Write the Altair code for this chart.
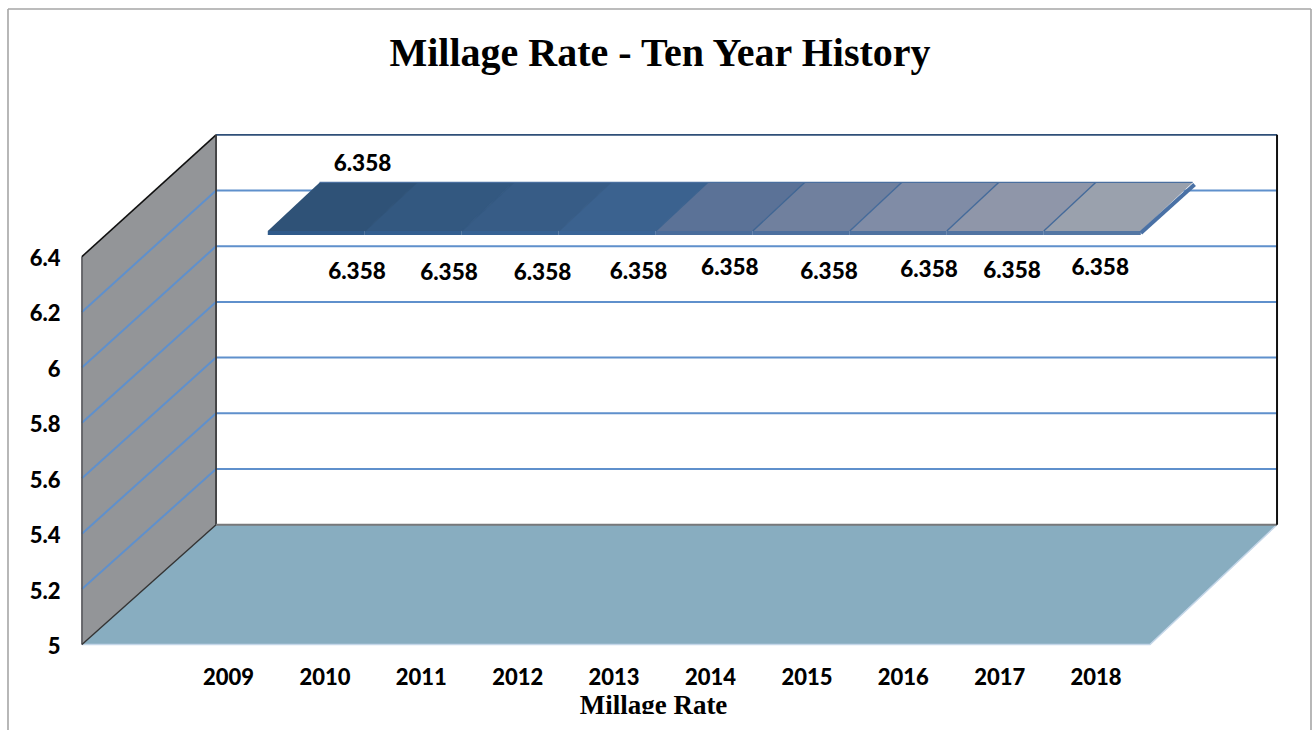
import altair as alt
import pandas as pd

# Annual millage rate, 2009-2018
years = [2009, 2010, 2011, 2012, 2013, 2014, 2015, 2016, 2017, 2018]
rates = [6.358, 6.358, 6.358, 6.358, 6.358, 6.358, 6.358, 6.358, 6.358, 6.358]
value_ticks = [5, 5.2, 5.4, 5.6, 5.8, 6, 6.2, 6.4]

# Canvas layout of the plot area inside the page
PAD_LEFT, PAD_TOP, PLOT_W, PLOT_H = 62, 100, 1250, 560
PX_PER_YEAR, PX_PER_UNIT = 96.4, 277.1
ORIGIN_X, ORIGIN_Y = 228.0, 644.5  # canvas position of year 2009, value 5

x_scale = alt.Scale(
    domain=[2009 + (PAD_LEFT - ORIGIN_X) / PX_PER_YEAR,
            2009 + (PAD_LEFT + PLOT_W - ORIGIN_X) / PX_PER_YEAR],
    nice=False, zero=False)
y_scale = alt.Scale(
    domain=[5 + (ORIGIN_Y - PAD_TOP - PLOT_H) / PX_PER_UNIT,
            5 + (ORIGIN_Y - PAD_TOP) / PX_PER_UNIT],
    nice=False, zero=False)

# Oblique projection: depth 0 is the front plane, depth 1 the back wall
WALL_FRONT_L, WALL_BACK_L = 2007.485, 2008.876
FLOOR_FRONT_R, FLOOR_BACK_R = 2018.564, 2019.882
RUN_YEARS = 130 / PX_PER_YEAR
SLAB_SPREAD = 97 / PX_PER_YEAR
SLAB_D0, SLAB_D1 = 0.306, 0.705
SLAB_THICK = 0.0144


def rise(v):
    return (119.8 + (v - 5) * 1.36) / PX_PER_UNIT


def py(v, d):
    return v + d * rise(v)


def px(year, d):
    return 2009 + (year - 2009) * SLAB_SPREAD + d * RUN_YEARS


x_axis = alt.Axis(
    values=years, format="d", domain=False, ticks=False, grid=False,
    labelFont="Lato", labelFontWeight=900, labelFontSize=22, labelColor="#000000",
    labelPadding=17, labelAngle=0, labelBaseline="middle", labelFlush=False,
    labelOverlap=False,
    title="Millage Rate", titleFont="Liberation Serif", titleFontWeight="bold",
    titleFontSize=27, titleColor="#000000", titleX=591, titleY=53,
    titleBaseline="alphabetic", titleAnchor="middle")
y_axis = alt.Axis(
    values=value_ticks, format="~g", domain=False, ticks=False, grid=False,
    labelFont="Lato", labelFontWeight=900, labelFontSize=22, labelColor="#000000",
    labelPadding=2, labelOffset=2, labelOverlap=False, title="")

X = alt.X("x:Q", scale=x_scale, axis=x_axis)
Y = alt.Y("y:Q", scale=y_scale, axis=y_axis)
X2 = alt.X2("x2:Q")
Y2 = alt.Y2("y2:Q")

# Left wall
wall = pd.DataFrame({
    "x": [WALL_FRONT_L, WALL_BACK_L],
    "y": [py(6.4, 0), py(6.4, 1)],
    "y2": [py(5, 0), py(5, 1)],
})
wall_layer = alt.Chart(wall).mark_area(orient="vertical", color="#939598").encode(X, Y, Y2)

# Floor
floor = pd.DataFrame({
    "y": [py(5, 0), py(5, 1)],
    "x": [WALL_FRONT_L, WALL_BACK_L],
    "x2": [FLOOR_FRONT_R, FLOOR_BACK_R],
})
floor_layer = alt.Chart(floor).mark_area(orient="horizontal", color="#88adc0").encode(Y, X, X2)
floor_rim = alt.Chart(pd.DataFrame({
    "x": [WALL_FRONT_L, FLOOR_FRONT_R, FLOOR_BACK_R],
    "y": [py(5, 0), py(5, 0), py(5, 1)],
})).mark_line(color="#c4d6e8", strokeWidth=1.5).encode(X, Y)

# Gridlines run across the left wall and then along the back wall
grid_rows = []
for v in value_ticks[1:-1]:
    grid_rows += [
        {"v": v, "o": 0, "x": WALL_FRONT_L, "y": py(v, 0)},
        {"v": v, "o": 1, "x": WALL_BACK_L, "y": py(v, 1)},
        {"v": v, "o": 2, "x": FLOOR_BACK_R, "y": py(v, 1)},
    ]
grid_layer = alt.Chart(pd.DataFrame(grid_rows)).mark_line(
    color="#5f90cc", strokeWidth=2).encode(X, Y, detail="v:N", order="o:Q")
top_edge = alt.Chart(pd.DataFrame({
    "x": [WALL_BACK_L, FLOOR_BACK_R], "y": [py(6.4, 1), py(6.4, 1)],
})).mark_line(color="#2f4f78", strokeWidth=1.8).encode(X, Y)


def edge(x0, y0, x1, y1, color, width):
    table = pd.DataFrame({"x": [x0, x1], "y": [y0, y1]})
    return alt.Chart(table).mark_line(color=color, strokeWidth=width).encode(X, Y)


wall_edges = [
    edge(WALL_FRONT_L, py(5, 0), WALL_FRONT_L, py(6.4, 0), "#55565a", 1.6),
    edge(WALL_FRONT_L, py(6.4, 0), WALL_BACK_L, py(6.4, 1), "#111111", 1.6),
    edge(WALL_BACK_L, py(6.4, 1), WALL_BACK_L, py(5, 1), "#3a3a3c", 1.8),
    edge(WALL_FRONT_L, py(5, 0), WALL_BACK_L, py(5, 1), "#333333", 1.4),
    edge(WALL_BACK_L, py(5, 1), FLOOR_BACK_R, py(5, 1), "#77787a", 2),
    edge(FLOOR_BACK_R, py(5, 1), FLOOR_BACK_R, py(6.4, 1), "#111111", 2),
]

# Rate band: nine shaded panels between consecutive years
top_colors = ["#2f5277", "#335880", "#375c86", "#3b628f",
              "#5b7297", "#70809e", "#808ca6", "#8f96a9", "#9aa1ad"]
face_colors = ["#2f5a8a", "#335f90", "#366294", "#3a6598",
               "#4a6d9c", "#4d709f", "#4f72a0", "#5174a2", "#5477a4"]
seam_colors = ["#2f5277", "#335880", "#375c86", "#3b628f",
               "#3f6593", "#446a9a", "#446a9a", "#446a9a"]

v_top = rates[0]
v_base = v_top - SLAB_THICK
slab_layers = []
for i in range(len(years) - 1):
    y0, y1 = years[i], years[i + 1]
    panel = pd.DataFrame({
        "y": [py(v_top, SLAB_D0), py(v_top, SLAB_D1)],
        "x": [px(y0, SLAB_D0), px(y0, SLAB_D1)],
        "x2": [px(y1, SLAB_D0), px(y1, SLAB_D1)],
    })
    slab_layers.append(alt.Chart(panel).mark_area(
        orient="horizontal", color=top_colors[i]).encode(Y, X, X2))
    face = pd.DataFrame({
        "x": [px(y0, SLAB_D0), px(y1, SLAB_D0)],
        "y": [py(v_top, SLAB_D0)] * 2,
        "y2": [py(v_base, SLAB_D0)] * 2,
    })
    slab_layers.append(alt.Chart(face).mark_area(
        orient="vertical", color=face_colors[i]).encode(X, Y, Y2))
for i in range(1, len(years) - 1):
    slab_layers.append(edge(px(years[i], SLAB_D0), py(v_top, SLAB_D0),
                            px(years[i], SLAB_D1), py(v_top, SLAB_D1),
                            seam_colors[i - 1], 1.4))
slab_layers.append(edge(px(years[0], SLAB_D1), py(v_top, SLAB_D1),
                        px(years[-1], SLAB_D1), py(v_top, SLAB_D1), "#4a6f9f", 1.2))
slab_layers.append(edge(px(years[-1], SLAB_D0), py(v_top - SLAB_THICK / 2, SLAB_D0),
                        px(years[-1], SLAB_D1) + 0.02, py(v_top - SLAB_THICK / 2, SLAB_D1),
                        "#4a71a5", 4))

# Value labels sit where they were dragged, each nudged from its own point
label_nudges = [(134.5, -104), (32.6, 4), (28.2, 5), (25.3, 5), (24.9, 4),
                (19.9, 0), (22.6, 4), (26.2, 2), (12.8, 3), (4.6, -0.5)]
table = pd.DataFrame({"year": years, "rate": rates})
label_layers = []
for row, (dx, dy) in zip(table.to_dict("records"), label_nudges):
    label_layers.append(alt.Chart(pd.DataFrame([row])).mark_text(
        font="Lato", fontWeight=900, fontSize=22.5, color="#000000",
        dx=dx, dy=dy).encode(
        alt.X("year:Q", scale=x_scale, axis=x_axis),
        alt.Y("rate:Q", scale=y_scale, axis=y_axis),
        text=alt.Text("rate:Q", format=".3f")))

# The caption is trimmed along its lower edge by the frame of the page
mask = alt.Chart(table.head(1)).mark_rect(color="#ffffff").encode(
    x=alt.value(480), x2=alt.value(700), y=alt.value(614), y2=alt.value(630))

# Outer frame around the chart
frame = [
    alt.Chart(table.head(1)).mark_rule(color="#a6a6a6", strokeWidth=1.6).encode(
        x=alt.value(8 - PAD_LEFT), y=alt.value(9 - PAD_TOP), y2=alt.value(730 - PAD_TOP)),
    alt.Chart(table.head(1)).mark_rule(color="#a6a6a6", strokeWidth=1.6).encode(
        x=alt.value(1311 - PAD_LEFT), y=alt.value(9 - PAD_TOP), y2=alt.value(730 - PAD_TOP)),
    alt.Chart(table.head(1)).mark_rule(color="#a6a6a6", strokeWidth=1.6).encode(
        x=alt.value(8 - PAD_LEFT), x2=alt.value(1311 - PAD_LEFT), y=alt.value(9 - PAD_TOP)),
]

# Wall gridlines are drawn over the grey wall, the floor over their feet
layers = [wall_layer, grid_layer, top_edge, floor_layer, floor_rim] + wall_edges
layers += slab_layers + label_layers + [mask] + frame

chart = alt.layer(*layers).resolve_scale(x="shared", y="shared").properties(
    width=PLOT_W,
    height=PLOT_H,
    padding={"left": PAD_LEFT, "top": PAD_TOP, "right": 0, "bottom": 730 - PAD_TOP - PLOT_H},
    autosize=alt.AutoSizeParams(type="none"),
    background="#ffffff",
    title=alt.TitleParams(
        "Millage Rate - Ten Year History", font="Liberation Serif", fontWeight="bold",
        fontSize=40, color="#000000", anchor="middle", dx=-27, offset=-98, baseline="alphabetic"),
).configure_view(stroke=None)

chart.save("out.html", embed_options={"renderer": "svg", "actions": False})
